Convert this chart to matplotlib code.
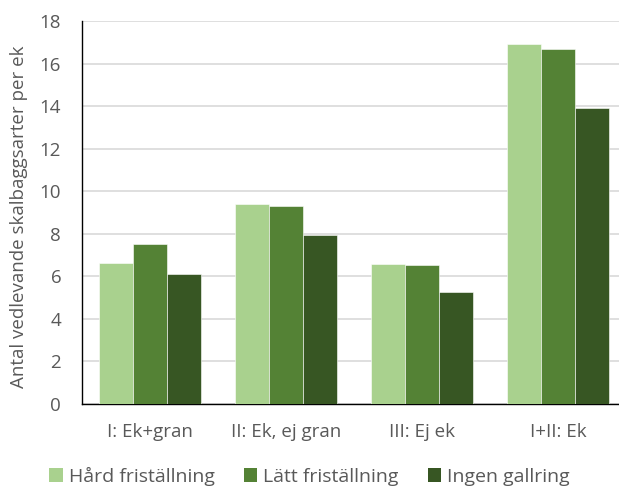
import numpy as np
import matplotlib.pyplot as plt
from matplotlib.patches import Patch

# Data
groups = ['I: Ek+gran', 'II: Ek, ej gran', 'III: Ej ek', 'I+II: Ek']
series = ['Hård friställning', 'Lätt friställning', 'Ingen gallring']
hard = [6.63, 9.4, 6.56, 16.9]
latt = [7.5, 9.3, 6.55, 16.68]
ingen = [6.09, 7.94, 5.28, 13.9]
colors = ['#A9D18E', '#548235', '#375623']

plt.rcParams['font.family'] = ['Open Sans', 'DejaVu Sans']
txt = '#595959'

fig = plt.figure(figsize=(6.19, 4.86), dpi=100)
W, H = 619, 486
left, right, top, bottom = 82, 626.5, 21, 404
ax = fig.add_axes([left / W, 1 - bottom / H, (right - left) / W, (bottom - top) / H])

x = np.arange(len(groups))
bw = 0.25
for i, (vals, c) in enumerate(zip([hard, latt, ingen], colors)):
    ax.bar(x + (i - 1) * bw, vals, bw, color=c, edgecolor='#ffffff', linewidth=0.4, zorder=3)

ax.set_xlim(-0.5, len(groups) - 0.5)
ax.set_ylim(0, 18)
ax.set_yticks(range(0, 19, 2))
ax.set_xticks(x)
ax.set_xticklabels(groups)
ax.yaxis.grid(True, color='#D9D9D9', linewidth=1.2, zorder=0)
ax.set_axisbelow(True)
for s in ['top', 'right']:
    ax.spines[s].set_visible(False)
for s in ['left', 'bottom']:
    ax.spines[s].set_color('#000000')
    ax.spines[s].set_linewidth(1.0)
ax.tick_params(axis='both', length=0, labelsize=13.5, colors=txt)
ax.tick_params(axis='x', pad=14)
ax.tick_params(axis='y', pad=15)
ax.set_ylabel('Antal vedlevande skalbaggsarter per ek', fontsize=13.5, color=txt)
ax.yaxis.set_label_coords(-0.1, 0.49)

handles = [Patch(facecolor=c, edgecolor='none') for c in colors]
fig.legend(handles, series, loc='lower center', bbox_to_anchor=(0.5, -0.036),
           ncol=3, frameon=False, fontsize=14, labelcolor=txt,
           handlelength=0.7, handleheight=0.7, handletextpad=0.3, columnspacing=1.5)

fig.savefig('out.png', dpi=100)
